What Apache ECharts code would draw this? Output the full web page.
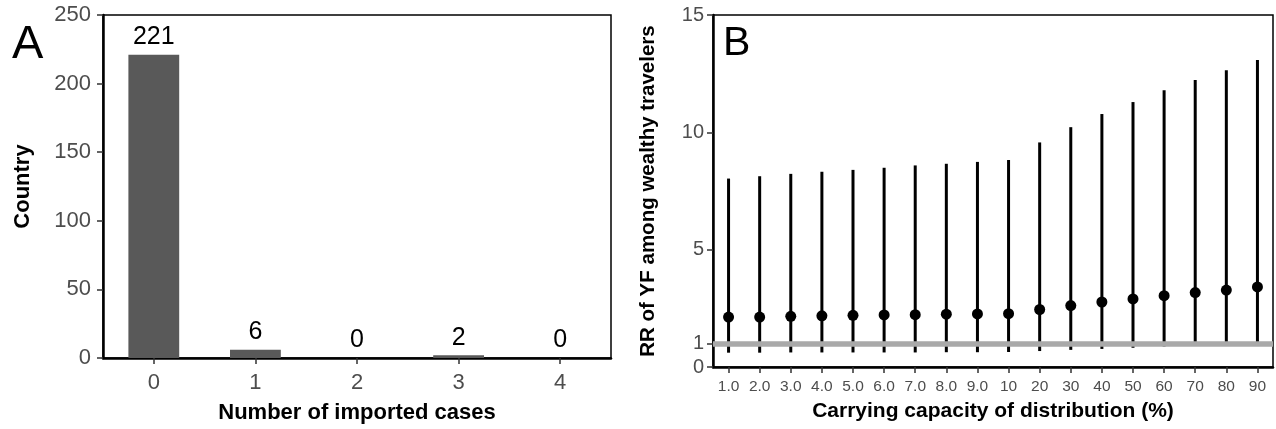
<!DOCTYPE html>
<html><head><meta charset="utf-8">
<script src="https://cdn.jsdelivr.net/npm/echarts@6/dist/echarts.min.js"></script>
<style>html,body{margin:0;padding:0;background:#fff}#c{width:1276px;height:429px}</style>
</head><body><div id="c"></div>
<script>
// Panel A
const casesCategories = ['0', '1', '2', '3', '4'];
const countryCounts = [221, 6, 0, 2, 0];
// Panel B
const capacityCategories = ['1.0','2.0','3.0','4.0','5.0','6.0','7.0','8.0','9.0','10','20','30','40','50','60','70','80','90'];
const rrPoint = [2.13,2.13,2.16,2.18,2.20,2.22,2.23,2.25,2.26,2.27,2.45,2.62,2.77,2.90,3.04,3.17,3.28,3.41];
const rrLower = [0.61,0.61,0.62,0.62,0.62,0.62,0.62,0.63,0.63,0.64,0.68,0.73,0.77,0.82,0.87,0.91,0.94,0.98];
const rrUpper = [8.03,8.13,8.23,8.32,8.40,8.49,8.59,8.66,8.74,8.82,9.57,10.22,10.78,11.29,11.79,12.23,12.65,13.08];
const yTicksB = [0, 1, 5, 10, 15];
const refLine = 1;

const FONT = "'Liberation Sans', Arial, sans-serif";
const chart = echarts.init(document.getElementById('c'));
const axisLineStyle = {show: true, lineStyle: {color: '#000', width: 2.5}};
const tickStyle = {show: true, length: 6, lineStyle: {color: '#333', width: 1.5}};

chart.setOption({
  animation: false,
  textStyle: {fontFamily: FONT},
  graphic: [
    {type: 'text', left: 12, top: 22, style: {text: 'A', fontSize: 47, fontFamily: FONT, fill: '#000'}},
    {type: 'text', left: 723, top: 23, style: {text: 'B', fontSize: 41, fontFamily: FONT, fill: '#000'}}
  ],
  grid: [
    {left: 103, top: 15, right: 665, bottom: 70, show: true, borderColor: '#000', borderWidth: 1.5, backgroundColor: 'transparent'},
    {left: 713, top: 15, right: 3, bottom: 62, show: true, borderColor: '#000', borderWidth: 1.5, backgroundColor: 'transparent'}
  ],
  xAxis: [
    {gridIndex: 0, type: 'category', data: casesCategories,
     name: 'Number of imported cases', nameLocation: 'middle', nameGap: 44,
     nameTextStyle: {fontSize: 22, fontWeight: 'bold', color: '#000', fontFamily: FONT},
     axisLine: axisLineStyle, axisTick: Object.assign({alignWithLabel: true}, tickStyle),
     axisLabel: {fontSize: 22, color: '#4d4d4d', margin: 14}},
    {gridIndex: 1, type: 'category', data: capacityCategories,
     name: 'Carrying capacity of distribution (%)', nameLocation: 'middle', nameGap: 34,
     nameTextStyle: {fontSize: 21, fontWeight: 'bold', color: '#000', fontFamily: FONT},
     axisLine: axisLineStyle, axisTick: Object.assign({alignWithLabel: true}, tickStyle),
     axisLabel: {fontSize: 15.5, color: '#4d4d4d', margin: 12, interval: 0}}
  ],
  yAxis: [
    {gridIndex: 0, type: 'value', min: 0, max: 250, interval: 50,
     name: 'Country', nameLocation: 'middle', nameGap: 69,
     nameTextStyle: {fontSize: 22, fontWeight: 'bold', color: '#000', fontFamily: FONT},
     axisLine: axisLineStyle, axisTick: tickStyle, splitLine: {show: false},
     axisLabel: {fontSize: 22, color: '#4d4d4d', margin: 12}},
    {gridIndex: 1, type: 'value', min: 0, max: 15,
     name: 'RR of YF among wealthy travelers', nameLocation: 'middle', nameGap: 54,
     nameTextStyle: {fontSize: 20.5, fontWeight: 'bold', color: '#000', fontFamily: FONT},
     axisLine: axisLineStyle, axisTick: Object.assign({customValues: yTicksB}, tickStyle), splitLine: {show: false},
     axisLabel: {fontSize: 20, color: '#4d4d4d', margin: 9, customValues: yTicksB}}
  ],
  series: [
    {type: 'bar', xAxisIndex: 0, yAxisIndex: 0, data: countryCounts, barWidth: '50%',
     itemStyle: {color: '#595959'},
     label: {show: true, position: 'top', distance: 5, fontSize: 25, color: '#000', fontFamily: FONT}},
    {type: 'line', xAxisIndex: 1, yAxisIndex: 1, data: [], silent: true,
     markLine: {symbol: 'none', silent: true, label: {show: false},
       lineStyle: {color: '#a9a9a9', width: 5.5, type: 'solid'}, data: [{yAxis: refLine}]}, z: 1},
    {type: 'bar', xAxisIndex: 1, yAxisIndex: 1, stack: 'ci', data: rrLower, barWidth: 3,
     itemStyle: {color: 'transparent'}, silent: true, z: 3},
    {type: 'bar', xAxisIndex: 1, yAxisIndex: 1, stack: 'ci', data: rrUpper.map((u, i) => +(u - rrLower[i]).toFixed(3)), barWidth: 3,
     itemStyle: {color: '#000'}, z: 3},
    {type: 'scatter', xAxisIndex: 1, yAxisIndex: 1, data: rrPoint, symbol: 'circle', symbolSize: 11,
     itemStyle: {color: '#000', opacity: 1}, z: 4}
  ]
});
</script></body></html>
